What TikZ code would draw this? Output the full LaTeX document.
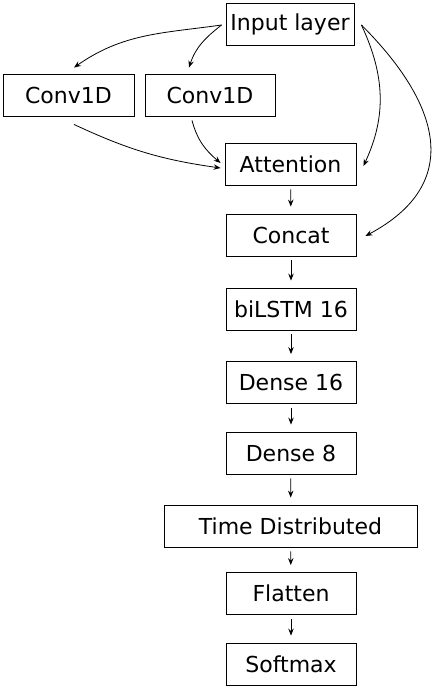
\documentclass[tikz,border=0pt]{standalone}
\usepackage{fontspec}
\setmainfont{DejaVu Sans}
\usetikzlibrary{arrows.meta}
\begin{document}
\begin{tikzpicture}[x=1pt,y=1pt,
  layer/.style={draw, line width=0.9pt, minimum height=42pt, inner sep=0pt,
    font=\fontsize{22}{26}\selectfont},
  arr/.style={line width=0.8pt, -{Stealth[length=7pt,width=5.5pt,inset=2.5pt]}},
  flow/.style={arr, shorten <=4pt, shorten >=7pt}]
\useasboundingbox (0,0) rectangle (438,-689);
\node[layer, minimum width=128pt] (in) at (290,-24) {Input layer};
\node[layer, minimum width=131pt] (c1) at (68.5,-95) {Conv1D};
\node[layer, minimum width=130pt] (c2) at (210,-95) {Conv1D};
\node[layer, minimum width=131pt] (att) at (290.5,-164) {Attention};
\node[layer, minimum width=130pt] (cat) at (291,-235) {Concat};
\node[layer, minimum width=130pt] (lstm) at (291,-309) {biLSTM 16};
\node[layer, minimum width=130pt] (d16) at (291,-382.5) {Dense 16};
\node[layer, minimum width=130pt] (d8) at (291,-453) {Dense 8};
\node[layer, minimum width=253pt] (td) at (290.5,-526) {Time Distributed};
\node[layer, minimum width=130pt] (fl) at (291,-593.5) {Flatten};
\node[layer, minimum width=130pt] (sm) at (291,-664) {Softmax};
% curved connectors
\draw[arr] ([xshift=-4pt,yshift=-1pt]in.west) to[out=188,in=35] ([xshift=5.5pt,yshift=6pt]c1.north);
\draw[arr] ([xshift=-4pt,yshift=-1pt]in.west) to[out=218,in=72] ([xshift=-21pt,yshift=6pt]c2.north);
\draw[arr] ([xshift=5.5pt,yshift=-8pt]c1.south) to[out=-25,in=172] ([xshift=-4pt,yshift=-4pt]att.west);
\draw[arr] ([xshift=-18pt,yshift=-4pt]c2.south) to[out=-75,in=140] ([xshift=-4pt,yshift=1pt]att.west);
\draw[arr] ([xshift=7pt,yshift=-1pt]in.east) to[out=-65,in=65] ([xshift=7pt,yshift=-2pt]att.east);
\draw[arr] ([xshift=7pt,yshift=-1pt]in.east) to[out=-45,in=28,looseness=1.35] ([xshift=9pt,yshift=-1pt]cat.east);
% straight connectors
\draw[flow] (att) -- (cat);
\draw[flow] (cat) -- (lstm);
\draw[flow] (lstm) -- (d16);
\draw[flow] (d16) -- (d8);
\draw[flow] (d8) -- (td);
\draw[flow] (td) -- (fl);
\draw[flow] (fl) -- (sm);
\end{tikzpicture}
\end{document}
